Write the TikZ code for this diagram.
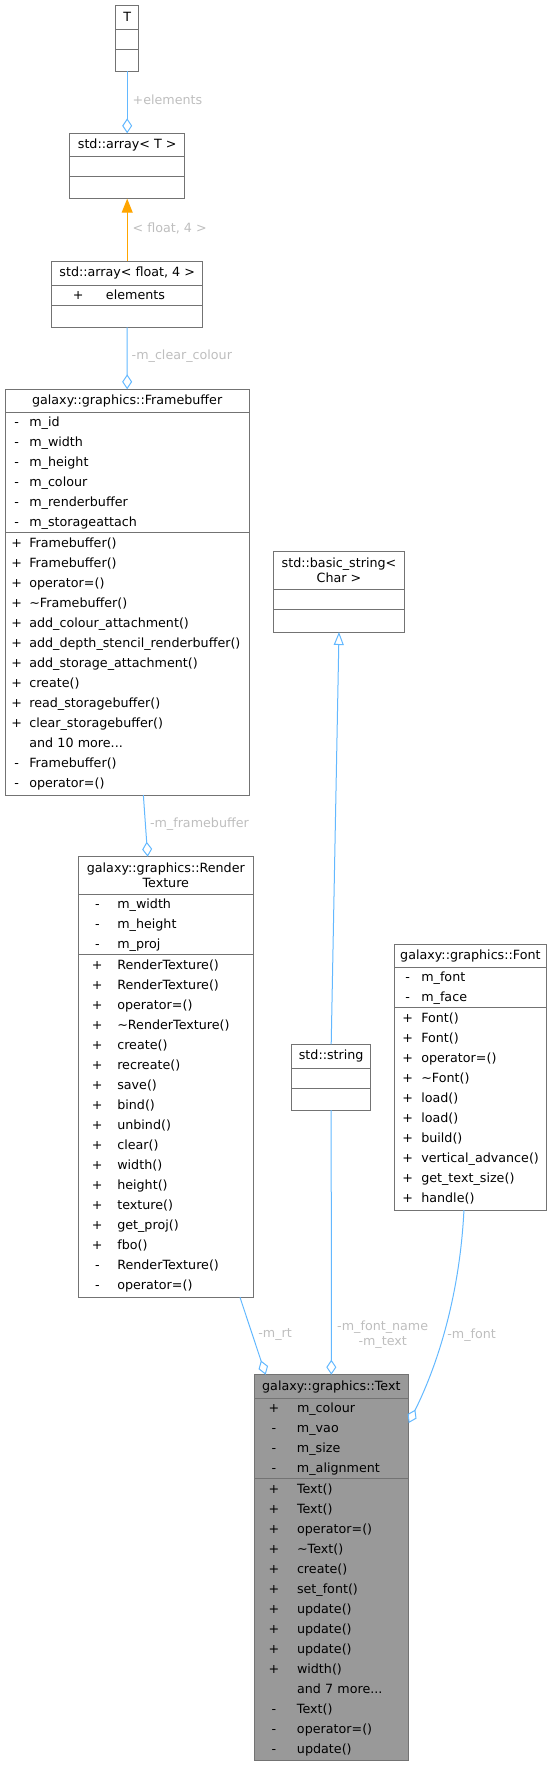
\documentclass[tikz,border=0pt]{standalone}
\usepackage{fontspec}
\setmainfont{DejaVu Sans}
\usepackage{tikz}
\usetikzlibrary{arrows.meta,positioning}

\definecolor{boxline}{HTML}{737373}
\definecolor{edgeblue}{HTML}{63B8FF}
\definecolor{tmplorange}{HTML}{FFA500}
\definecolor{lblgray}{HTML}{BEBEBE}
\definecolor{curfill}{HTML}{999999}

\newlength\symw
\newlength\symg
\newcommand\mrow[2]{\strut\makebox[\symw][c]{#1}\hspace{\symg}#2}

\begin{document}
\begin{tikzpicture}[x=1pt, y=-1pt, line width=1pt,
  hd/.style={draw=boxline,fill=white,anchor=north west,outer sep=0pt,inner sep=1pt,align=center,font=\fontsize{12.7}{14.5}\selectfont},
  cp/.style={draw=boxline,fill=white,outer sep=0pt,inner ysep=0pt,inner xsep=3pt,align=left,font=\fontsize{12.7}{20}\selectfont},
  syms/.style 2 args={execute at begin node={\setlength\symw{#1}\setlength\symg{#2}}},
  agg/.style={draw=edgeblue,-{Diamond[open,length=15pt,width=10pt]}},
  inh/.style={draw=edgeblue,-{Triangle[open,length=13pt,width=10pt]}},
  tmpl/.style={draw=tmplorange,-{Triangle[length=14pt,width=11pt,fill=tmplorange]}},
  lbl/.style={text=lblgray,inner sep=0pt,align=center,font=\fontsize{12.7}{14.5}\selectfont}]
\useasboundingbox (0,0) rectangle (556,1765);

% template parameter and std::array
\node[hd,minimum width=23pt,minimum height=24pt] (tT) at (115.7,5) {T};
\node[cp,below=0pt of tT,text width=17pt,minimum height=20pt] (tA) {};
\node[cp,below=0pt of tA,text width=17pt,minimum height=22pt] (tM) {};

\node[hd,minimum width=115pt,minimum height=23.4pt] (arrT) at (69.7,133.3) {std::array< T >};
\node[cp,below=0pt of arrT,text width=109pt,minimum height=20pt] (arrTA) {};
\node[cp,below=0pt of arrTA,text width=109pt,minimum height=22pt] (arrTM) {};

\node[hd,minimum width=151pt,minimum height=24pt] (arrF) at (51.7,261) {std::array< float, 4 >};
\node[cp,syms={47.2pt}{4.1pt},below=0pt of arrF,text width=145pt,minimum height=20pt] (arrFA) {\mrow{+}{elements}};
\node[cp,below=0pt of arrFA,text width=145pt,minimum height=22.4pt] (arrFM) {};

% framebuffer
\node[hd,minimum width=244.3pt,minimum height=23pt] (fb) at (5,389.3) {galaxy::graphics::Framebuffer};
\node[cp,syms={17.4pt}{3.9pt},below=0pt of fb,text width=238.3pt,minimum height=120pt] (fbA) {%
  \mrow{-}{m\_id}\\ \mrow{-}{m\_width}\\ \mrow{-}{m\_height}\\
  \mrow{-}{m\_colour}\\ \mrow{-}{m\_renderbuffer}\\ \mrow{-}{m\_storageattach}};
\node[cp,syms={17.4pt}{3.9pt},below=0pt of fbA,text width=238.3pt,minimum height=262.7pt] (fbM) {%
  \mrow{+}{Framebuffer()}\\ \mrow{+}{Framebuffer()}\\ \mrow{+}{operator=()}\\
  \mrow{+}{\textasciitilde Framebuffer()}\\ \mrow{+}{add\_colour\_attachment()}\\
  \mrow{+}{add\_depth\_stencil\_renderbuffer()}\\ \mrow{+}{add\_storage\_attachment()}\\
  \mrow{+}{create()}\\ \mrow{+}{read\_storagebuffer()}\\ \mrow{+}{clear\_storagebuffer()}\\
  \mrow{}{and 10 more...}\\ \mrow{-}{Framebuffer()}\\ \mrow{-}{operator=()}};

% render texture
\node[hd,minimum width=175pt,minimum height=37.6pt] (rt) at (78.3,856.7) {galaxy::graphics::Render\\Texture};
\node[cp,syms={32pt}{4pt},below=0pt of rt,text width=169pt,minimum height=60pt] (rtA) {%
  \mrow{-}{m\_width}\\ \mrow{-}{m\_height}\\ \mrow{-}{m\_proj}};
\node[cp,syms={32pt}{4pt},below=0pt of rtA,text width=169pt,minimum height=343pt] (rtM) {%
  \mrow{+}{RenderTexture()}\\ \mrow{+}{RenderTexture()}\\ \mrow{+}{operator=()}\\
  \mrow{+}{\textasciitilde RenderTexture()}\\ \mrow{+}{create()}\\ \mrow{+}{recreate()}\\
  \mrow{+}{save()}\\ \mrow{+}{bind()}\\ \mrow{+}{unbind()}\\ \mrow{+}{clear()}\\
  \mrow{+}{width()}\\ \mrow{+}{height()}\\ \mrow{+}{texture()}\\ \mrow{+}{get\_proj()}\\
  \mrow{+}{fbo()}\\ \mrow{-}{RenderTexture()}\\ \mrow{-}{operator=()}};

% strings
\node[hd,minimum width=131.4pt,minimum height=37.6pt] (bstr) at (273.3,551.7) {std::basic\_string<\\Char >};
\node[cp,below=0pt of bstr,text width=125.4pt,minimum height=20pt] (bstrA) {};
\node[cp,below=0pt of bstrA,text width=125.4pt,minimum height=22.7pt] (bstrM) {};

\node[hd,minimum width=79pt,minimum height=24pt] (str) at (291.7,1044.3) {std::string};
\node[cp,below=0pt of str,text width=73pt,minimum height=20pt] (strA) {};
\node[cp,below=0pt of strA,text width=73pt,minimum height=21.7pt] (strM) {};

% font
\node[hd,minimum width=152.7pt,minimum height=23.3pt] (fnt) at (394,944) {galaxy::graphics::Font};
\node[cp,syms={21.4pt}{2.9pt},below=0pt of fnt,text width=146.7pt,minimum height=40.4pt] (fntA) {%
  \mrow{-}{m\_font}\\ \mrow{-}{m\_face}};
\node[cp,syms={21.4pt}{2.9pt},below=0pt of fntA,text width=146.7pt,minimum height=202.3pt] (fntM) {%
  \mrow{+}{Font()}\\ \mrow{+}{Font()}\\ \mrow{+}{operator=()}\\ \mrow{+}{\textasciitilde Font()}\\
  \mrow{+}{load()}\\ \mrow{+}{load()}\\ \mrow{+}{build()}\\ \mrow{+}{vertical\_advance()}\\
  \mrow{+}{get\_text\_size()}\\ \mrow{+}{handle()}};

% text (current class)
\node[hd,fill=curfill,minimum width=154.7pt,minimum height=23.6pt] (txt) at (254,1374.7) {galaxy::graphics::Text};
\node[cp,fill=curfill,syms={34pt}{6pt},below=0pt of txt,text width=148.7pt,minimum height=80pt] (txtA) {%
  \mrow{+}{m\_colour}\\ \mrow{-}{m\_vao}\\ \mrow{-}{m\_size}\\ \mrow{-}{m\_alignment}};
\node[cp,fill=curfill,syms={34pt}{6pt},below=0pt of txtA,text width=148.7pt,minimum height=282.3pt] (txtM) {%
  \mrow{+}{Text()}\\ \mrow{+}{Text()}\\ \mrow{+}{operator=()}\\ \mrow{+}{\textasciitilde Text()}\\
  \mrow{+}{create()}\\ \mrow{+}{set\_font()}\\ \mrow{+}{update()}\\ \mrow{+}{update()}\\
  \mrow{+}{update()}\\ \mrow{+}{width()}\\ \mrow{}{and 7 more...}\\ \mrow{-}{Text()}\\
  \mrow{-}{operator=()}\\ \mrow{-}{update()}};

% edge labels
\node[lbl,anchor=west] (lElem) at (132.2,100) {+elements};
\node[lbl,anchor=west] (lTmpl) at (132.2,228.7) {< float, 4 >};
\node[lbl,anchor=west] (lClear) at (131.2,356) {-m\_clear\_colour};
\node[lbl,anchor=west] (lFb) at (149.5,824.3) {-m\_framebuffer};
\node[lbl,anchor=west] (lRt) at (257.8,1335) {-m\_rt};
\node[lbl] (lName) at (382.7,1334.5) {-m\_font\_name\\-m\_text};
\node[lbl,anchor=west] (lFont) at (446.8,1335) {-m\_font};

% edges
\draw[agg] (tM.south) -- (arrT.north);
\draw[tmpl] (arrF.north) -- (arrTM.south);
\draw[agg] (arrFM.south) -- (fb.north);
\draw[agg] ([xshift=16.2pt]fbM.south) -- ([xshift=-18.1pt]rt.north);
\draw[inh] (str.north) -- (bstrM.south);
\draw[agg] (strM.south) -- (txt.north);
\draw[agg] ([xshift=74.2pt]rtM.south) -- ([xshift=-65.7pt]txt.north);
\draw[agg] ([xshift=-6.4pt]fntM.south) .. controls (460,1290) and (440,1360) .. ([yshift=15.3pt]txtA.east);
\end{tikzpicture}
\end{document}
